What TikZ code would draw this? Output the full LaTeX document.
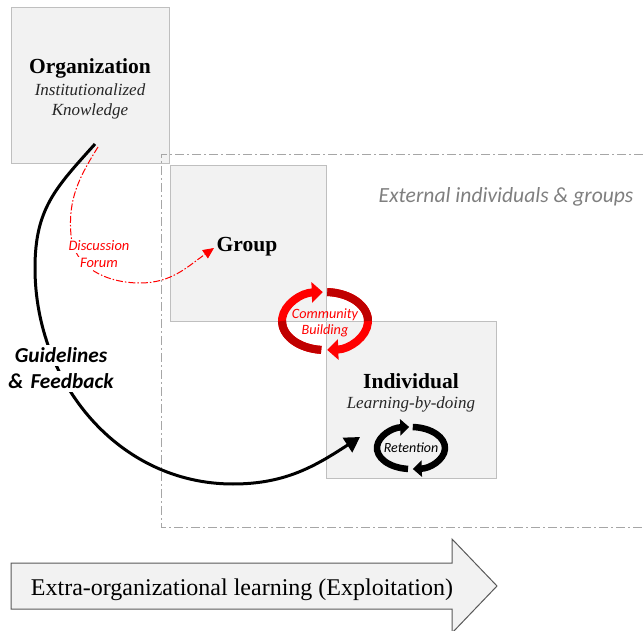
\documentclass[tikz,border=0pt]{standalone}
\usepackage{fontspec}
\setmainfont{Liberation Serif}
\newfontfamily\calib{Carlito}
\usetikzlibrary{arrows.meta}
\definecolor{boxfill}{HTML}{F2F2F2}
\definecolor{boxline}{HTML}{BFBFBF}
\definecolor{dashgray}{HTML}{A6A6A6}
\definecolor{extgray}{HTML}{7F7F7F}
\definecolor{brightred}{HTML}{FF0000}
\definecolor{darkred}{HTML}{C00000}
\definecolor{arrline}{HTML}{595959}
\begin{document}
\begin{tikzpicture}[x=1pt,y=1pt,
  box/.style={draw=boxline, fill=boxfill, line width=1pt, inner sep=0pt, outer sep=0pt},
  title/.style={anchor=base, font=\fontsize{21.5}{24}\selectfont\bfseries},
  sub/.style={anchor=base, font=\fontsize{17}{20}\selectfont\itshape, text=black!85},
  gfline/.style={anchor=base, fill=white, text width=112pt, align=center, inner xsep=0pt, inner ysep=3pt,
    font=\calib\bfseries\itshape\fontsize{21.3}{24}\selectfont},
  dfline/.style={anchor=base, fill=white, text width=74pt, align=center, inner xsep=0pt, inner ysep=2pt,
    text=brightred, font=\calib\itshape\fontsize{14.5}{17}\selectfont},
  cbline/.style={anchor=base, inner sep=0pt, text=brightred, font=\calib\itshape\fontsize{14.2}{16}\selectfont},
  ring/.style={line width=#1, line cap=butt},
]
\useasboundingbox (0,0) rectangle (643,630);

% boxes
\node[box, minimum width=158pt, minimum height=156pt] (org) at (90,544) {};
\node[box, minimum width=156pt, minimum height=156pt] (grp) at (248,386) {};
\node[box, minimum width=170pt, minimum height=156pt] (ind) at (411,230) {};

% dash-dot frame
\draw[dashgray, line width=1pt, dash pattern=on 9pt off 3pt on 2pt off 3pt]
  (643,475) -- (161,475) -- (161,103) -- (643,103);

\node[anchor=base east, font=\calib\itshape\fontsize{21.6}{24}\selectfont, text=extgray] (ext) at (637,427)
  {External individuals \& groups};

% box texts
\node[title] (orgt) at (90,556) {Organization};
\node[sub] (orgs1) at (90,534) {Institutionalized};
\node[sub] (orgs2) at (90,514) {Knowledge};
\node[title] (grpt) at (247,378) {Group};
\node[title] (indt) at (411,241) {Individual};
\node[sub] (inds) at (411,221) {Learning-by-doing};

% guidelines & feedback curve
\coordinate (gfs) at (95,486);
\coordinate (gfe) at (360,193);
\draw[line width=3pt, -{Triangle[width=17pt,length=15pt]}]
  (gfs) to[out=228,in=90,looseness=1.1] (35,362) to[out=270,in=180] (233,146) to[out=0,in=213] (gfe);
\node[gfline] (gf1) at (61,267) {Guidelines};
\node[gfline] (gf2) at (61,241) {\& Feedback};

% discussion forum curve
\coordinate (dfs) at (98,483);
\coordinate (dfe) at (214,382);
\draw[brightred, line width=1pt, dash pattern=on 7pt off 2pt on 1.5pt off 2pt,
  -{Triangle[width=10pt,length=11pt]}]
  (dfs) to[out=238,in=95] (71,395) to[out=275,in=180] (140,347) to[out=0,in=215] (dfe);
\node[dfline] (df1) at (99,379) {Discussion};
\node[dfline] (df2) at (99,362) {Forum};

% community building ring
\coordinate (cb) at (325,309);
\draw[brightred, ring=8pt, -{Triangle[width=20pt,length=11pt]}]
  (cb) ++(265:43 and 29) arc[start angle=265, end angle=93, x radius=43, y radius=29];
\draw[darkred, ring=8pt]
  (cb) ++(265:43 and 29) arc[start angle=265, end angle=180, x radius=43, y radius=29];
\draw[brightred, ring=8pt, -{Triangle[width=20pt,length=11pt]}]
  (cb) ++(87:43 and 29) arc[start angle=87, end angle=-87, x radius=43, y radius=29];
\draw[darkred, ring=8pt]
  (cb) ++(87:43 and 29) arc[start angle=87, end angle=0, x radius=43, y radius=29];
\node[cbline] (cb1) at (325,311) {Community};
\node[cbline] (cb2) at (325,295) {Building};

% retention ring
\coordinate (rt) at (411,182);
\draw[black, ring=6.5pt, -{Triangle[width=16pt,length=9pt]}]
  (rt) ++(265:34 and 21) arc[start angle=265, end angle=93, x radius=34, y radius=21];
\draw[black, ring=6.5pt, -{Triangle[width=16pt,length=9pt]}]
  (rt) ++(87:34 and 21) arc[start angle=87, end angle=-87, x radius=34, y radius=21];
\node[anchor=base, inner sep=0pt, font=\calib\itshape\fontsize{14}{16}\selectfont] (rtt) at (411,178) {Retention};

% bottom arrow
\draw[draw=arrline, fill=boxfill, line width=1pt]
  (11,67) -- (452,67) -- (452,91) -- (497,44) -- (452,-3) -- (452,21) -- (11,21) -- cycle;
\node[anchor=base, font=\fontsize{24}{28}\selectfont] (eol) at (242,35) {Extra-organizational learning (Exploitation)};
\end{tikzpicture}
\end{document}
